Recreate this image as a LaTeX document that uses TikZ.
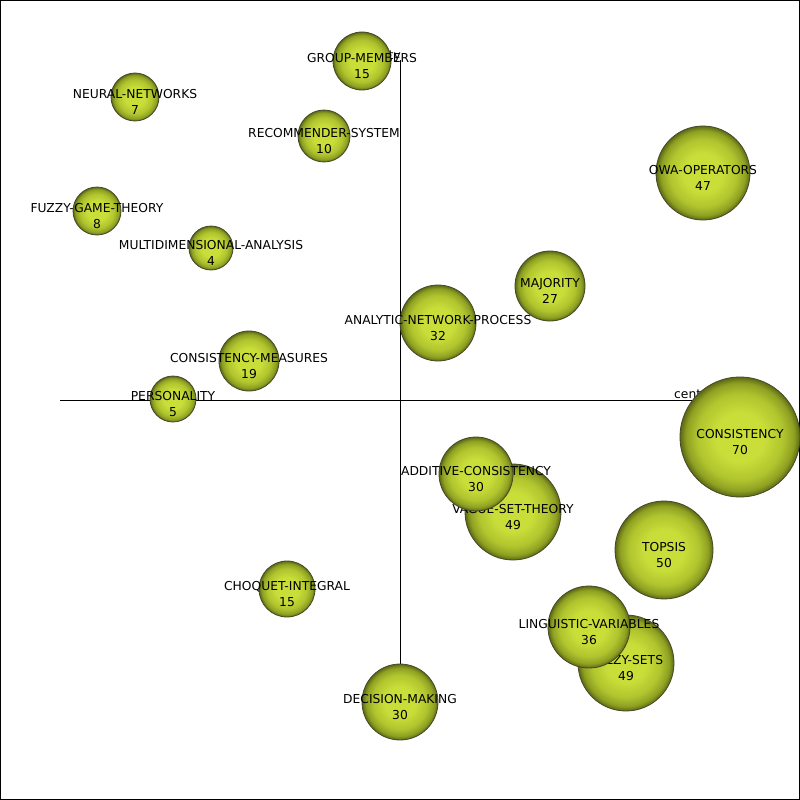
\documentclass[tikz,border=0pt]{standalone}
\usepackage{fontspec}
\setmainfont{DejaVu Sans}
\usepackage{tikz}

\definecolor{bubin}{RGB}{202,222,58}
\definecolor{bubmid}{RGB}{176,196,46}
\definecolor{bubdark}{RGB}{142,160,34}
\definecolor{bubout}{RGB}{92,104,20}
\definecolor{bubline}{RGB}{70,72,40}
\pgfdeclareradialshading{bubble}{\pgfpoint{0bp}{0bp}}{color(0bp)=(bubin); color(10bp)=(bubin); color(18bp)=(bubmid); color(22.5bp)=(bubdark); color(25bp)=(bubout); color(50bp)=(bubout)}

\begin{document}
\begin{tikzpicture}[x=1pt,y=-1pt,
    bub/.style={circle,shade,shading=bubble,draw=bubline,line width=0.8pt,inner sep=0pt},
    txt/.style={align=center,font=\fontsize{12.3}{15.5}\selectfont,inner sep=0pt}]
  \useasboundingbox (0,0) rectangle (800,800);
  \draw[line width=0.8pt] (0.5,0.5) rectangle (799.5,799.5);

  % Achsen
  \draw (60,400) -- (740,400);
  \draw (400,60) -- (400,740);
  \node[txt,anchor=south west] (xlab) at (674,401) {centrality};
  \node[txt,anchor=south east] (ylab) at (401,62) {density};

  % Themen, die grossen zuerst
  \foreach \x/\y/\r/\t/\n in {
      740/437/60/CONSISTENCY/70,
      664/550/49/TOPSIS/50,
      513/512/48/VAGUE-SET-THEORY/49,
      626/663/48/FUZZY-SETS/49,
      703/173/47/OWA-OPERATORS/47,
      589/627/41/LINGUISTIC-VARIABLES/36,
      438/323/38/ANALYTIC-NETWORK-PROCESS/32,
      476/474/37/ADDITIVE-CONSISTENCY/30,
      400/702/38/DECISION-MAKING/30,
      550/286/35/MAJORITY/27,
      249/361/30/CONSISTENCY-MEASURES/19,
      362/61/29/GROUP-MEMBERS/15,
      287/589/28/CHOQUET-INTEGRAL/15,
      324/136/26/RECOMMENDER-SYSTEM/10,
      97/211/24/FUZZY-GAME-THEORY/8,
      135/97/24/NEURAL-NETWORKS/7,
      173/399/23/PERSONALITY/5,
      211/248/22/MULTIDIMENSIONAL-ANALYSIS/4}
  {
    \node[bub,minimum size=2*\r] (\t) at (\x,\y) {};
    \node[txt] (\t-lab) at ([yshift=-5pt]\t.center) {\t\\\n};
  }
\end{tikzpicture}
\end{document}
